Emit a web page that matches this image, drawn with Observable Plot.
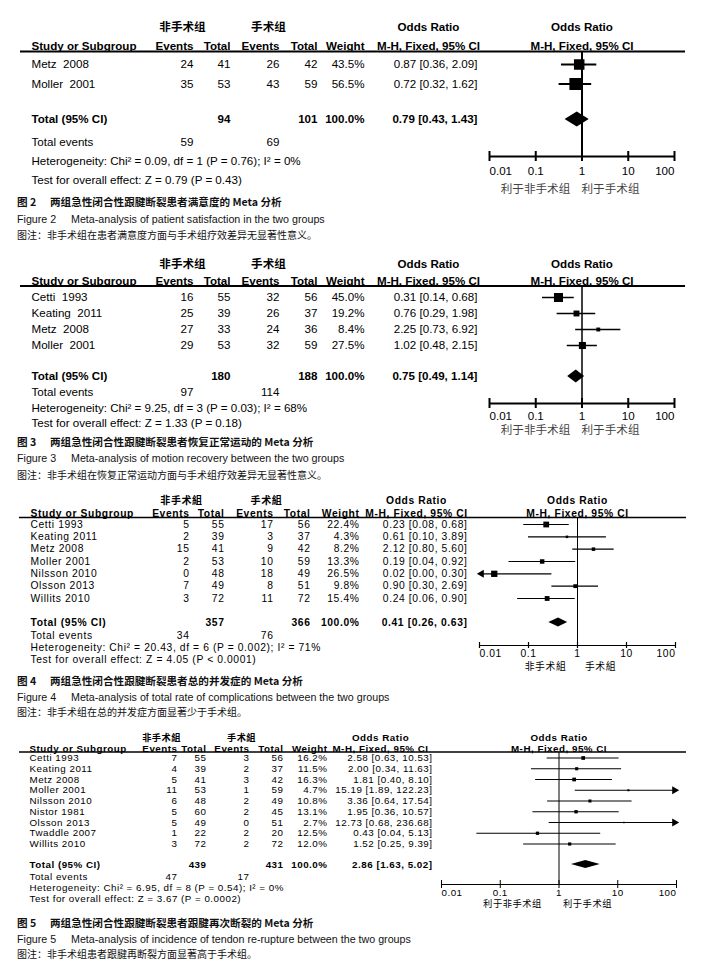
<!DOCTYPE html>
<html><head><meta charset="utf-8">
<script src="https://cdn.jsdelivr.net/npm/d3@7"></script>
<script src="https://cdn.jsdelivr.net/npm/@observablehq/plot@0.6"></script>
<style>
body{margin:0;background:#fff;width:717px;height:977px;position:relative;overflow:hidden;font-family:"Liberation Sans",Arial,sans-serif}
.panel{position:absolute;left:0}
.cap{position:absolute;left:17px;white-space:nowrap;color:#111;line-height:1}
.cap .lab{display:inline-block}
.zh{font-family:"Noto Sans CJK SC","Liberation Sans",sans-serif}
.en{font-family:"Liberation Sans",Arial,sans-serif}
</style></head><body>
<script>
// ---------- shared tick labels ----------
const tickVals = [0.01, 0.1, 1, 10, 100];
const tickLabels = ["0.01", "0.1", "1", "10", "100"];

// ---------- Figure 2 ----------
const f2Studies = ["Metz 2008", "Moller 2001"];
const f2E1 = [24, 35], f2N1 = [41, 53], f2E2 = [26, 43], f2N2 = [42, 59];
const f2W = [43.5, 56.5];
const f2OR = [0.87, 0.72], f2Lo = [0.36, 0.32], f2Hi = [2.09, 1.62];
const f2Total = {n1: 94, n2: 101, e1: 59, e2: 69, or: 0.79, lo: 0.43, hi: 1.43};
const f2Het = "Heterogeneity: Chi² = 0.09, df = 1 (P = 0.76); I² = 0%";
const f2Test = "Test for overall effect: Z = 0.79 (P = 0.43)";
const f2Groups = ["非手术组", "手术组"], f2Fav = ["利于非手术组", "利于手术组"];

// ---------- Figure 3 ----------
const f3Studies = ["Cetti 1993", "Keating 2011", "Metz 2008", "Moller 2001"];
const f3E1 = [16, 25, 27, 29], f3N1 = [55, 39, 33, 53], f3E2 = [32, 26, 24, 32], f3N2 = [56, 37, 36, 59];
const f3W = [45.0, 19.2, 8.4, 27.5];
const f3OR = [0.31, 0.76, 2.25, 1.02], f3Lo = [0.14, 0.29, 0.73, 0.48], f3Hi = [0.68, 1.98, 6.92, 2.15];
const f3Total = {n1: 180, n2: 188, e1: 97, e2: 114, or: 0.75, lo: 0.49, hi: 1.14};
const f3Het = "Heterogeneity: Chi² = 9.25, df = 3 (P = 0.03); I² = 68%";
const f3Test = "Test for overall effect: Z = 1.33 (P = 0.18)";
const f3Groups = ["非手术组", "手术组"], f3Fav = ["利于非手术组", "利于手术组"];

// ---------- Figure 4 ----------
const f4Studies = ["Cetti 1993", "Keating 2011", "Metz 2008", "Moller 2001", "Nilsson 2010", "Olsson 2013", "Willits 2010"];
const f4E1 = [5, 2, 15, 2, 0, 7, 3], f4N1 = [55, 39, 41, 53, 48, 49, 72];
const f4E2 = [17, 3, 9, 10, 18, 8, 11], f4N2 = [56, 37, 42, 59, 49, 51, 72];
const f4W = [22.4, 4.3, 8.2, 13.3, 26.5, 9.8, 15.4];
const f4OR = [0.23, 0.61, 2.12, 0.19, 0.02, 0.90, 0.24];
const f4Lo = [0.08, 0.10, 0.80, 0.04, 0.00, 0.30, 0.06];
const f4Hi = [0.68, 3.89, 5.60, 0.92, 0.30, 2.69, 0.90];
const f4Total = {n1: 357, n2: 366, e1: 34, e2: 76, or: 0.41, lo: 0.26, hi: 0.63};
const f4Het = "Heterogeneity: Chi² = 20.43, df = 6 (P = 0.002); I² = 71%";
const f4Test = "Test for overall effect: Z = 4.05 (P < 0.0001)";
const f4Groups = ["非手术組", "手术組"], f4Fav = ["非手术組", "手术組"];

// ---------- Figure 5 ----------
const f5Studies = ["Cetti 1993", "Keating 2011", "Metz 2008", "Moller 2001", "Nilsson 2010", "Nistor 1981", "Olsson 2013", "Twaddle 2007", "Willits 2010"];
const f5E1 = [7, 4, 5, 11, 6, 5, 5, 1, 3], f5N1 = [55, 39, 41, 53, 48, 60, 49, 22, 72];
const f5E2 = [3, 2, 3, 1, 2, 2, 0, 2, 2], f5N2 = [56, 37, 42, 59, 49, 45, 51, 20, 72];
const f5W = [16.2, 11.5, 16.3, 4.7, 10.8, 13.1, 2.7, 12.5, 12.0];
const f5OR = [2.58, 2.00, 1.81, 15.19, 3.36, 1.95, 12.73, 0.43, 1.52];
const f5Lo = [0.63, 0.34, 0.40, 1.89, 0.64, 0.36, 0.68, 0.04, 0.25];
const f5Hi = [10.53, 11.63, 8.10, 122.23, 17.54, 10.57, 236.68, 5.13, 9.39];
const f5Total = {n1: 439, n2: 431, e1: 47, e2: 17, or: 2.86, lo: 1.63, hi: 5.02};
const f5Het = "Heterogeneity: Chi² = 6.95, df = 8 (P = 0.54); I² = 0%";
const f5Test = "Test for overall effect: Z = 3.67 (P = 0.0002)";
const f5Groups = ["非手术組", "手术組"], f5Fav = ["利于非手术组", "利于手术组"];

// ---------- captions ----------
const captions = [
  {num: "图 2", title: "两组急性闭合性跟腱断裂患者满意度的 Meta 分析", fig: "Figure 2", en: "Meta-analysis of patient satisfaction in the two groups", note: "图注：非手术组在患者满意度方面与手术组疗效差异无显著性意义。"},
  {num: "图 3", title: "两组急性闭合性跟腱断裂患者恢复正常运动的 Meta 分析", fig: "Figure 3", en: "Meta-analysis of motion recovery between the two groups", note: "图注：非手术组在恢复正常运动方面与手术组疗效差异无显著性意义。"},
  {num: "图 4", title: "两组急性闭合性跟腱断裂患者总的并发症的 Meta 分析", fig: "Figure 4", en: "Meta-analysis of total rate of complications between the two groups", note: "图注：非手术组在总的并发症方面显著少于手术组。"},
  {num: "图 5", title: "两组急性闭合性跟腱断裂患者跟腱再次断裂的 Meta 分析", fig: "Figure 5", en: "Meta-analysis of incidence of tendon re-rupture between the two groups", note: "图注：非手术组患者跟腱再断裂方面显著高于手术组。"}
];

// ---------- layout (pixels) ----------
const colsA = {study: 31, ev1: 193, tot1: 230, ev2: 279, tot2: 317, w: 364, or: 477, orHead: 428, g1: 182, g2: 268};
const layouts = [
  {top: 12, height: 190, row0: 64, step: 19.5, h1: 27, h2: 45.5, line: 51, total: 119, events: 142, het: 161, test: 180,
   axis: 156, ticks: 171, fav: 189, cols: colsA, xRange: [489, 674], lineL: 20, lineR: 685, fav1: 535, fav2: 610,
   rmax: 9, dia: 7.5, fs: 11.6, hfs: 11.6, ffs: 11.6, ls: 0, tickLen: 5, ciw: 2, vw: 2, hw: 2, aw: 2, dbl: true, favFill: "#444", capY: [203, 220, 236]},
  {top: 252, height: 188, row0: 297, step: 16, h1: 264, h2: 280.5, line: 285.5, total: 376, events: 392, het: 408, test: 423,
   axis: 403, ticks: 416, fav: 430, cols: colsA, xRange: [489, 674], lineL: 20, lineR: 685, fav1: 535, fav2: 610,
   rmax: 7.6, dia: 6.5, fs: 11.6, hfs: 11.6, ffs: 11.6, ls: 0, tickLen: 5, ciw: 1.5, vw: 1.5, hw: 2, aw: 2, dbl: true, favFill: "#444", capY: [443, 459, 476]},
  {top: 492, height: 180, row0: 524, step: 12.33, h1: 500.5, h2: 513, line: 517, total: 622, events: 635, het: 647, test: 659,
   axis: 645, ticks: 653, fav: 666, cols: {study: 30, ev1: 189, tot1: 224, ev2: 273, tot2: 310, w: 359, or: 467, orHead: 416, g1: 181, g2: 266},
   xRange: [479, 675], lineL: 19, lineR: 686, fav1: 545, fav2: 600,
   rmax: 6.9, dia: 4.5, fs: 10.3, hfs: 10, ffs: 9.8, ls: 0.6, tickLen: 3, ciw: 1.2, vw: 1, hw: 1.5, aw: 1.2, dbl: false, favFill: "#000", capY: [682, 698, 713]},
  {top: 730, height: 182, row0: 757.5, step: 10.75, h1: 737.5, h2: 748, line: 751.5, total: 864, events: 876, het: 887, test: 898,
   axis: 884, ticks: 892, fav: 904, cols: {study: 29, ev1: 177, tot1: 206, ev2: 249, tot2: 283, w: 327, or: 432, orHead: 380, g1: 161, g2: 241},
   xRange: [441, 676], lineL: 19, lineR: 686, fav1: 512, fav2: 587,
   rmax: 5.2, dia: 4, fs: 9.8, hfs: 9.2, ffs: 9.3, ls: 0.5, tickLen: 4, ciw: 1, vw: 1, hw: 1.5, aw: 1, dbl: false, favFill: "#000", capY: [924, 940, 955]}
];

const panels = [
  {studies: f2Studies, e1: f2E1, n1: f2N1, e2: f2E2, n2: f2N2, w: f2W, or: f2OR, lo: f2Lo, hi: f2Hi, t: f2Total, het: f2Het, test: f2Test, groups: f2Groups, fav: f2Fav},
  {studies: f3Studies, e1: f3E1, n1: f3N1, e2: f3E2, n2: f3N2, w: f3W, or: f3OR, lo: f3Lo, hi: f3Hi, t: f3Total, het: f3Het, test: f3Test, groups: f3Groups, fav: f3Fav},
  {studies: f4Studies, e1: f4E1, n1: f4N1, e2: f4E2, n2: f4N2, w: f4W, or: f4OR, lo: f4Lo, hi: f4Hi, t: f4Total, het: f4Het, test: f4Test, groups: f4Groups, fav: f4Fav},
  {studies: f5Studies, e1: f5E1, n1: f5N1, e2: f5E2, n2: f5N2, w: f5W, or: f5OR, lo: f5Lo, hi: f5Hi, t: f5Total, het: f5Het, test: f5Test, groups: f5Groups, fav: f5Fav}
];

const CJK = "Noto Sans CJK SC";
const LAT = "Liberation Sans, Arial, sans-serif";
const f2d = d3.format(".2f");
const ciText = (o, l, h) => `${f2d(o)} [${f2d(l)}, ${f2d(h)}]`;
const X0 = 0.01, X1 = 100;

function drawPanel(cfg, D) {
  const u = p => (p - cfg.row0) / cfg.step;
  const rows = D.studies.map((s, i) => ({
    i, s: cfg.dbl ? s.replace(" ", "\u00a0\u00a0") : s,
    e1: D.e1[i], n1: D.n1[i], e2: D.e2[i], n2: D.n2[i], w: D.w[i], or: D.or[i], lo: D.lo[i], hi: D.hi[i]
  }));
  const C = cfg.cols;
  const base = {frameAnchor: "left", fontSize: cfg.fs, fill: "#000", fontFamily: LAT};
  const col = (text, x, opts = {}) => Plot.text(rows, {...base, y: "i", text, dx: x, textAnchor: "end", ...opts});
  const one = (txt, x, yp, opts = {}) => Plot.text([txt], {...base, y: () => u(yp), text: d => d, dx: x, textAnchor: "middle", ...opts});
  const fx = (txt, xv, yp, opts = {}) => Plot.text([txt], {fontSize: cfg.fs, fill: "#000", fontFamily: LAT, x: () => xv, y: () => u(yp), text: d => d, textAnchor: "middle", ...opts});
  const B = {fontWeight: "bold"};
  const T = D.t;
  const yt = u(cfg.total), hh = cfg.dia / cfg.step;
  const diamond = [{x: T.lo, a: yt, b: yt}, {x: T.or, a: yt - hh, b: yt + hh}, {x: T.hi, a: yt, b: yt}];
  const ticks = tickVals.map((v, k) => ({v, label: tickLabels[k], k}));
  const tk = cfg.tickLen / cfg.step;

  const marks = [
    // header rows
    one(D.groups[0], C.g1, cfg.h1, {...B, fontFamily: CJK, fontSize: cfg.hfs}),
    one(D.groups[1], C.g2, cfg.h1, {...B, fontFamily: CJK, fontSize: cfg.hfs}),
    one("Odds Ratio", C.orHead, cfg.h1, B),
    fx("Odds Ratio", 1, cfg.h1, B),
    one("Study or Subgroup", C.study, cfg.h2, {...B, textAnchor: "start"}),
    one("Events", C.ev1, cfg.h2, {...B, textAnchor: "end"}),
    one("Total", C.tot1, cfg.h2, {...B, textAnchor: "end"}),
    one("Events", C.ev2, cfg.h2, {...B, textAnchor: "end"}),
    one("Total", C.tot2, cfg.h2, {...B, textAnchor: "end"}),
    one("Weight", C.w, cfg.h2, {...B, textAnchor: "end"}),
    one("M-H, Fixed, 95% CI", C.orHead, cfg.h2, B),
    fx("M-H, Fixed, 95% CI", 1, cfg.h2, B),
    Plot.ruleY([u(cfg.line)], {insetLeft: cfg.lineL, insetRight: 717 - cfg.lineR, stroke: "#000", strokeWidth: cfg.hw}),
    // study rows
    Plot.text(rows, {...base, y: "i", text: "s", dx: C.study, textAnchor: "start"}),
    col("e1", C.ev1), col("n1", C.tot1), col("e2", C.ev2), col("n2", C.tot2),
    col(r => r.w.toFixed(1) + "%", C.w),
    col(r => ciText(r.or, r.lo, r.hi), C.or),
    // total rows
    one("Total (95% CI)", C.study, cfg.total, {...B, textAnchor: "start"}),
    one(String(T.n1), C.tot1, cfg.total, {...B, textAnchor: "end"}),
    one(String(T.n2), C.tot2, cfg.total, {...B, textAnchor: "end"}),
    one("100.0%", C.w, cfg.total, {...B, textAnchor: "end"}),
    one(ciText(T.or, T.lo, T.hi), C.or, cfg.total, {...B, textAnchor: "end"}),
    one("Total events", C.study, cfg.events, {textAnchor: "start"}),
    one(String(T.e1), C.ev1, cfg.events, {textAnchor: "end"}),
    one(String(T.e2), C.ev2, cfg.events, {textAnchor: "end"}),
    one(D.het, C.study, cfg.het, {textAnchor: "start"}),
    one(D.test, C.study, cfg.test, {textAnchor: "start"}),
    // forest
    Plot.ruleX([1], {y1: () => u(cfg.line), y2: () => u(cfg.axis), stroke: "#000", strokeWidth: cfg.vw}),
    Plot.ruleY(rows, {y: "i", x1: r => Math.max(r.lo, X0), x2: r => Math.min(r.hi, X1), stroke: "#000", strokeWidth: cfg.ciw}),
    Plot.dot(rows.filter(r => r.hi > X1), {x: () => X1, y: "i", symbol: "triangle", rotate: 90, r: 3, fill: "#000", stroke: null, dx: -2}),
    Plot.dot(rows.filter(r => r.lo < X0), {x: () => X0, y: "i", symbol: "triangle", rotate: -90, r: 3, fill: "#000", stroke: null, dx: 2}),
    Plot.dot(rows, {x: "or", y: "i", r: "w", symbol: "square", fill: "#000", stroke: null}),
    Plot.areaY(diamond, {x: "x", y1: "a", y2: "b", fill: "#000", curve: "linear"}),
    // axis
    Plot.ruleY([u(cfg.axis)], {x1: () => X0, x2: () => X1, stroke: "#000", strokeWidth: cfg.aw}),
    Plot.ruleX(ticks, {x: "v", y1: () => u(cfg.axis) - tk, y2: () => u(cfg.axis) + tk, stroke: "#000", strokeWidth: cfg.aw}),
    Plot.text(ticks.filter(t => t.k === 0), {x: "v", y: () => u(cfg.ticks), text: "label", textAnchor: "start", fontSize: cfg.fs, fontFamily: LAT, fill: "#000"}),
    Plot.text(ticks.filter(t => t.k > 0 && t.k < 4), {x: "v", y: () => u(cfg.ticks), text: "label", textAnchor: "middle", fontSize: cfg.fs, fontFamily: LAT, fill: "#000"}),
    Plot.text(ticks.filter(t => t.k === 4), {x: "v", y: () => u(cfg.ticks), text: "label", textAnchor: "end", fontSize: cfg.fs, fontFamily: LAT, fill: "#000"}),
    one(D.fav[0], cfg.fav1, cfg.fav, {fontFamily: CJK, fill: cfg.favFill, fontSize: cfg.ffs}),
    one(D.fav[1], cfg.fav2, cfg.fav, {fontFamily: CJK, fill: cfg.favFill, fontSize: cfg.ffs})
  ];

  const svg = Plot.plot({
    width: 717, height: cfg.height, margin: 0,
    x: {type: "log", domain: [X0, X1], range: cfg.xRange, axis: null},
    y: {type: "linear", domain: [0, 1], range: [cfg.row0 - cfg.top, cfg.row0 - cfg.top + cfg.step], axis: null},
    r: {type: "sqrt", domain: [0, 100], range: [0, cfg.rmax]},
    style: {fontFamily: LAT, background: "transparent", letterSpacing: cfg.ls + "px", overflow: "visible"},
    marks
  });
  const div = document.createElement("div");
  div.className = "panel";
  div.style.top = cfg.top + "px";
  div.appendChild(svg);
  document.body.appendChild(div);
}

layouts.forEach((cfg, k) => {
  drawPanel(cfg, panels[k]);
  const c = captions[k];
  const y = cfg.capY;
  const l1 = document.createElement("div");
  l1.className = "cap zh";
  l1.style.cssText = `top:${y[0] - 6}px;font-size:10.6px;font-weight:bold`;
  l1.innerHTML = `<span class="lab" style="width:33px">${c.num}</span>${c.title}`;
  const l2 = document.createElement("div");
  l2.className = "cap en";
  l2.style.cssText = `top:${y[1] - 6}px;font-size:10.7px`;
  l2.innerHTML = `<span class="lab" style="width:54px">${c.fig}</span>${c.en}`;
  const l3 = document.createElement("div");
  l3.className = "cap zh";
  l3.style.cssText = `top:${y[2] - 6}px;font-size:10px`;
  l3.textContent = c.note;
  document.body.append(l1, l2, l3);
});
</script>
</body></html>
